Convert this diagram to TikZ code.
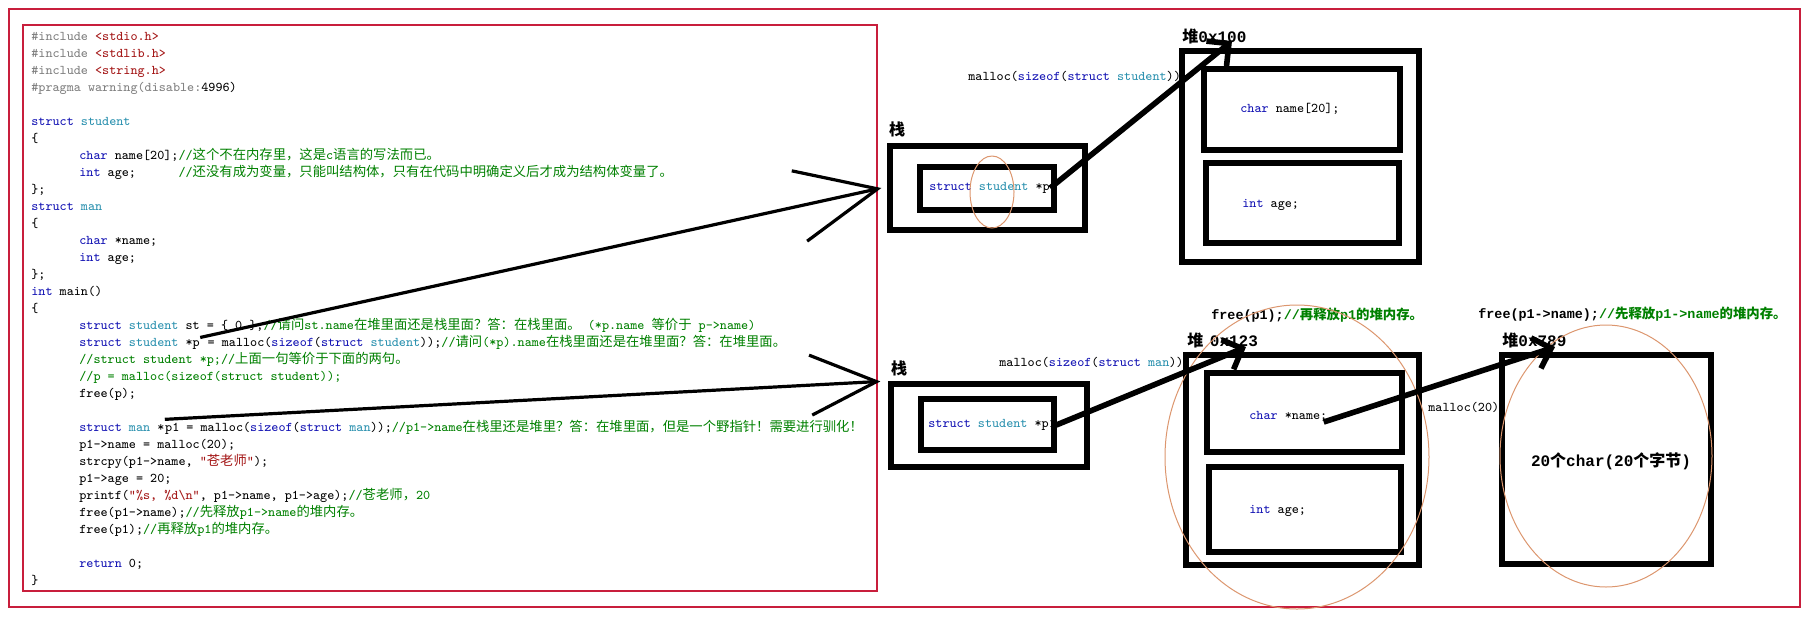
\documentclass[tikz,border=0pt]{standalone}
\usepackage{fontspec}
\usepackage{xcolor}
\usetikzlibrary{arrows.meta,fit,positioning}
\newfontfamily\cjk{Noto Sans CJK SC}
\newfontfamily\monobf{Liberation Mono}
\definecolor{kwblue}{RGB}{20,20,180}
\definecolor{tyteal}{RGB}{43,145,175}
\definecolor{cmgreen}{RGB}{0,128,0}
\definecolor{ppgrey}{RGB}{128,128,128}
\definecolor{strred}{RGB}{163,21,21}
\definecolor{framered}{RGB}{200,30,60}
\definecolor{memoorange}{RGB}{220,150,110}
\newcommand\zh[1]{{\cjk #1}}
\newcommand\kwd[1]{\textcolor{kwblue}{#1}}
\newcommand\tyn[1]{\textcolor{tyteal}{#1}}
\newcommand\cmt[1]{\textcolor{cmgreen}{#1}}
\newcommand\codefont{\fontsize{6.67pt}{8pt}\selectfont\ttfamily}
\newcommand\tagfont{\fontsize{8pt}{9pt}\selectfont\bfseries}
\newcommand\notefont{\fontsize{6.7pt}{8pt}\selectfont\bfseries\monobf}

\begin{document}
\begin{tikzpicture}[x=0.5pt,y=-0.5pt,
	srcline/.style={anchor=base west,inner sep=0pt,font=\codefont},
	diatext/.style={anchor=west,inner sep=0pt,font=\codefont},
	tag/.style={inner sep=0pt,font=\tagfont},
	note/.style={anchor=west,inner sep=0pt,font=\notefont},
	boxline/.style={draw,line width=2.6pt,inner sep=0pt},
	heapptr/.style={line width=2.8pt,-{Straight Barb[length=8pt,width=16pt]}},
	codeptr/.style={line width=1.6pt},
	memocircle/.style={draw=memoorange,line width=0.5pt}]
	\useasboundingbox (0,0) rectangle (1817,623);
	
	% frames
	\draw[framered,line width=0.6pt] (9,9) rectangle (1800,607);
	\draw[framered,line width=0.7pt] (23,25) rectangle (877,591);
	
	% source code
	\node[srcline] (l1) at (31,40) {\textcolor{ppgrey}{\#include} \textcolor{strred}{<stdio.h>}};
	\node[srcline] (l2) at (31,57) {\textcolor{ppgrey}{\#include} \textcolor{strred}{<stdlib.h>}};
	\node[srcline] (l3) at (31,74) {\textcolor{ppgrey}{\#include} \textcolor{strred}{<string.h>}};
	\node[srcline] (l4) at (31,91) {\textcolor{ppgrey}{\#pragma warning(disable:}4996)};
	\node[srcline] (l6) at (31,125) {\kwd{struct} \tyn{student}};
	\node[srcline] (l7) at (31,142) {\{};
	\node[srcline] (l8) at (79,159) {\kwd{char} name[20];\cmt{//\zh{这个不在内存里，这是}c\zh{语言的写法而已。}}};
	\node[srcline] (l9) at (79,176) {\kwd{int} age;~~~~~~\cmt{//\zh{还没有成为变量，只能叫结构体，只有在代码中明确定义后才成为结构体变量了。}}};
	\node[srcline] (l10) at (31,193) {\};};
	\node[srcline] (l11) at (31,210) {\kwd{struct} \tyn{man}};
	\node[srcline] (l12) at (31,227) {\{};
	\node[srcline] (l13) at (79,244) {\kwd{char} *name;};
	\node[srcline] (l14) at (79,261) {\kwd{int} age;};
	\node[srcline] (l15) at (31,278) {\};};
	\node[srcline] (l16) at (31,295) {\kwd{int} main()};
	\node[srcline] (l17) at (31,312) {\{};
	\node[srcline] (l18) at (79,329) {\kwd{struct} \tyn{student} st = \{ 0 \};\cmt{//\zh{请问}st.name\zh{在堆里面还是栈里面？答：在栈里面。}~(*p.name \zh{等价于} p->name)}};
	\node[srcline] (decp) at (79,346) {\kwd{struct} \tyn{student} *p};
	\node[srcline] (decpr) at (decp.base east) {~= malloc(\kwd{sizeof}(\kwd{struct} \tyn{student}));\cmt{//\zh{请问}(*p).name\zh{在栈里面还是在堆里面？答：在堆里面。}}};
	\node[srcline] (l20) at (79,363) {\cmt{//struct student *p;//\zh{上面一句等价于下面的两句。}}};
	\node[srcline] (l21) at (79,380) {\cmt{//p = malloc(sizeof(struct student));}};
	\node[srcline] (l22) at (79,397) {free(p);};
	\node[srcline] (decm) at (79,431) {\kwd{struct} \tyn{man} *};
	\node[srcline] (decmr) at (decm.base east) {p1 = malloc(\kwd{sizeof}(\kwd{struct} \tyn{man}));\cmt{//p1->name\zh{在栈里还是堆里？答：在堆里面，但是一个野指针！需要进行驯化！}}};
	\node[srcline] (l25) at (79,448) {p1->name = malloc(20);};
	\node[srcline] (l26) at (79,465) {strcpy(p1->name, \textcolor{strred}{“\zh{苍老师}”});};
	\node[srcline] (l27) at (79,482) {p1->age = 20;};
	\node[srcline] (l28) at (79,499) {printf(\textcolor{strred}{“\%s, \%d\textbackslash n”}, p1->name, p1->age);\cmt{//\zh{苍老师，}20}};
	\node[srcline] (l29) at (79,516) {free(p1->name);\cmt{//\zh{先释放}p1->name\zh{的堆内存。}}};
	\node[srcline] (l30) at (79,533) {free(p1);\cmt{//\zh{再释放}p1\zh{的堆内存。}}};
	\node[srcline] (l32) at (79,567) {\kwd{return} 0;};
	\node[srcline] (l33) at (31,584) {\}};
	
	% struct student *p
	\node[tag] (stkAlbl) at (897,129) {\zh{栈}};
	\node[boxline,fit={(890,146) (1085,230)}] (stackA) {};
	\node[boxline,fit={(920,167) (1054,210)}] (slotA) {};
	\node[diatext] (pA) at (929,188) {\kwd{struct} \tyn{student} *p};
	\draw[memocircle] (992,192) ellipse [x radius=11pt,y radius=18pt];
	\node[diatext] (mallocA) at (968,76) {malloc(\kwd{sizeof}(\kwd{struct} \tyn{student}))};
	\node[tag,anchor=west] (heapAlbl) at (1182,36) {\zh{堆}{\monobf 0x100}};
	\node[boxline,fit={(1182,51) (1419,262)}] (heapA) {};
	\node[boxline,fit={(1204,69) (1400,150)}] (nameA) {};
	\node[boxline,fit={(1206,163) (1399,243)}] (ageA) {};
	\node[diatext] (nameAtxt) at (1240,109) {\kwd{char} name[20];};
	\node[diatext] (ageAtxt) at (1242,205) {\kwd{int} age;};
	\coordinate (heapAtip) at (1232,41);
	\draw[heapptr] (pA.east) -- (heapAtip);
	
	% struct man *p1
	\node[tag] (stkBlbl) at (899,368) {\zh{栈}};
	\node[boxline,fit={(891,384) (1087,467)}] (stackB) {};
	\node[boxline,fit={(921,399) (1054,450)}] (slotB) {};
	\node[diatext] (pB) at (928,425) {\kwd{struct} \tyn{student} *p1};
	\node[diatext] (mallocB) at (999,362) {malloc(\kwd{sizeof}(\kwd{struct} \tyn{man}))};
	\node[note] (freeone) at (1211,315) {free(p1);\cmt{//\zh{再释放}p1\zh{的堆内存。}}};
	\node[tag,anchor=west] (heapBlbl) at (1187,340) {\zh{堆} {\monobf 0x123}};
	\node[boxline,fit={(1186,355) (1419,565)}] (heapB) {};
	\node[boxline,fit={(1207,373) (1402,452)}] (nameB) {};
	\node[boxline,fit={(1209,467) (1401,552)}] (ageB) {};
	\node[diatext] (nameBtxt) at (1249,416) {\kwd{char} *name;};
	\node[diatext] (ageBtxt) at (1249,511) {\kwd{int} age;};
	\draw[memocircle] (1297,457) ellipse [x radius=66pt,y radius=76pt];
	\coordinate (heapBtip) at (1246,347);
	\draw[heapptr] (pB.east) -- (heapBtip);
	
	% p1->name
	\node[note] (freename) at (1478,314) {free(p1->name);\cmt{//\zh{先释放}p1->name\zh{的堆内存。}}};
	\node[diatext] (mallocC) at (1428,407) {malloc(20)};
	\node[tag,anchor=west] (heapClbl) at (1502,340) {\zh{堆}{\monobf 0x789}};
	\node[boxline,fit={(1502,355) (1711,564)}] (heapC) {};
	\node[tag] (bytesC) at (1611,461) {{\monobf 20}\zh{个}{\monobf char(20}\zh{个字节}{\monobf )}};
	\draw[memocircle] (1606,456) ellipse [x radius=53pt,y radius=65.5pt];
	\coordinate (heapCtip) at (1555,347);
	\draw[heapptr] ([xshift=-2pt,yshift=-3pt]nameBtxt.east) -- (heapCtip);
	
	% code to stack
	\draw[codeptr,-{Straight Barb[length=40pt,width=36pt]}] (decp.north east) -- ([xshift=-3pt]stackA.west);
	\draw[codeptr,-{Straight Barb[length=33pt,width=30pt]}] (decmr.north west) -- ([xshift=-4pt]stackB.north west);
\end{tikzpicture}
\end{document}
